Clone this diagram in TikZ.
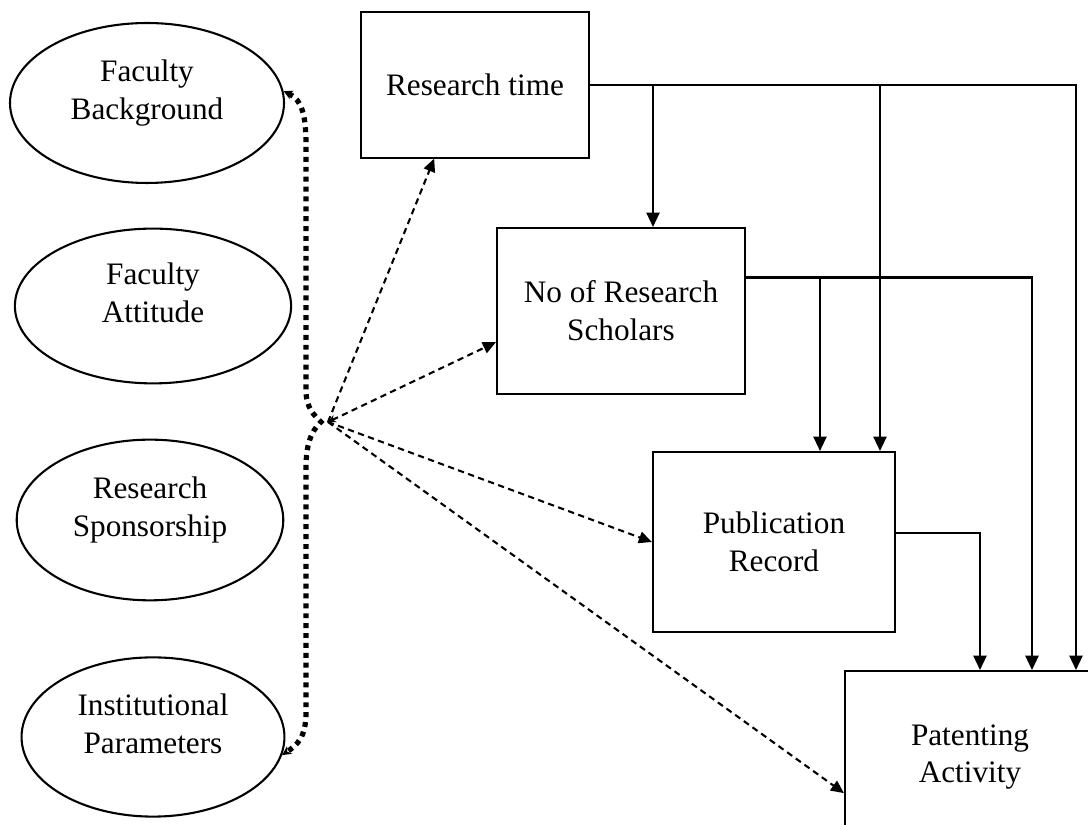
\documentclass[tikz,border=0pt]{standalone}
\usepackage{fontspec}
\setmainfont{Liberation Serif}
\usetikzlibrary{shapes.geometric,arrows.meta}

\begin{document}
\begin{tikzpicture}
  [x=0.0135cm,y=-0.0135cm,
   every node/.style={font=\fontsize{12}{14.5}\selectfont,align=center,draw,line width=0.8pt,inner sep=0pt},
   oval/.style={ellipse,text depth=0.35cm},
   flow/.style={line width=0.8pt,-{Triangle[length=5.5pt,width=5pt]}},
   infl/.style={line width=0.8pt,dash pattern=on 2.4pt off 1.7pt,-{Triangle[length=5pt,width=4.5pt]}},
   link/.style={line width=2pt,dash pattern=on 1.9pt off 1.9pt}]
  \clip (0,0) rectangle (1088,825);

  % factors
  \node[oval,minimum width=3.70cm,minimum height=2.16cm] (fb) at (147,103) {Faculty\\Background};
  \node[oval,minimum width=3.73cm,minimum height=2.09cm] (fa) at (153,306) {Faculty\\Attitude};
  \node[oval,minimum width=3.60cm,minimum height=2.17cm] (rs) at (150,520) {Research\\Sponsorship};
  \node[oval,minimum width=3.55cm,minimum height=2.15cm] (ip) at (153,737) {Institutional\\Parameters};

  % outcomes
  \node[minimum width=3.09cm,minimum height=1.96cm] (rt) at (475,85) {Research time};
  \node[minimum width=3.35cm,minimum height=2.24cm] (ns) at (621,311) {No of Research\\Scholars};
  \node[minimum width=3.27cm,minimum height=2.43cm] (pr) at (774,542) {Publication\\Record};
  \node[minimum width=3.375cm,minimum height=2.32cm] (pa) at (970,757) {Patenting\\Activity};

  \coordinate (knot) at (321,422);
  \coordinate (hub) at (328,422);
  \coordinate (d1) at (653,0);
  \coordinate (d2) at (880,0);
  \coordinate (d3) at (1076,0);
  \coordinate (d4) at (820,0);
  \coordinate (d5) at (1032,0);
  \coordinate (d6) at (980,0);

  \draw[link,{Stealth[length=3.5pt,width=3.5pt]}-{Stealth[length=3.5pt,width=3.5pt]}]
    (fb.5) .. controls (302,100) and (306,115) .. (306,145) -- (306,390)
    .. controls (306,408) and (314,415) .. (knot)
    .. controls (311,431) and (306,445) .. (306,468) -- (306,712)
    .. controls (306,738) and (297,745) .. (ip.-8);

  \foreach \to in {rt.-119,pr.west,pa.196}
    \draw[infl] (hub) -- (\to);
  \draw[infl,{Stealth[length=3pt,width=3pt]}-{Triangle[length=5pt,width=4.5pt]}] (hub) -- (ns.194);

  \draw[flow] (rt.east) -| (d3 |- pa.north);
  \draw[flow] (rt.east -| d1) -- (d1 |- ns.north);
  \draw[flow] (rt.east -| d2) -- (d2 |- pr.north);
  \draw[flow] (ns.15) -| (d5 |- pa.north);
  \draw[flow] (ns.15 -| d4) -- (d4 |- pr.north);
  \draw[flow] (pr.4) -| (d6 |- pa.north);
\end{tikzpicture}
\end{document}
